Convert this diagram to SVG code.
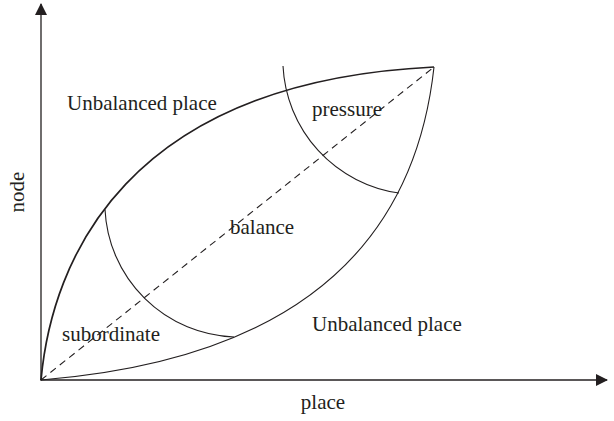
<svg xmlns="http://www.w3.org/2000/svg" width="614" height="421" viewBox="0 0 614 421">
  <defs>
    <marker id="arrow" viewBox="0 0 12 12" refX="11" refY="6" markerWidth="12" markerHeight="12" markerUnits="userSpaceOnUse" orient="auto">
      <path d="M0,0 L12,6 L0,12 Z" fill="#231f20"/>
    </marker>
  </defs>
  <style>
    .ax { stroke: #231f20; stroke-width: 1.3; fill: none; }
    .cv { stroke: #231f20; stroke-width: 1.1; fill: none; }
    .cv-bold { stroke: #231f20; stroke-width: 1.7; fill: none; }
    .dash { stroke: #231f20; stroke-width: 1.1; fill: none; stroke-dasharray: 7 5; }
    .lbl { font-family: "Liberation Serif", "Times New Roman", serif; font-size: 21px; fill: #231f20; }
  </style>
  <rect width="614" height="421" fill="#ffffff"/>
  <g id="axes">
    <line class="ax" x1="41" y1="380.5" x2="41" y2="4" marker-end="url(#arrow)"/>
    <line class="ax" x1="40.5" y1="380" x2="607" y2="380" marker-end="url(#arrow)"/>
  </g>
  <g id="connectors">
    <path id="upper-curve" class="cv-bold" d="M41,380 C52,260 125,82 434,67"/>
    <path id="lower-curve" class="cv" d="M41,380 Q403,351 434,67"/>
    <line id="diagonal" class="dash" x1="41" y1="380" x2="434" y2="67"/>
    <path id="subordinate-arc" class="cv" d="M105,209.5 A134,134 0 0 0 234,337"/>
    <path id="pressure-arc" class="cv" d="M283,66 A135,135 0 0 0 399,193"/>
  </g>
  <g id="labels">
    <text class="lbl" x="67" y="110">Unbalanced place</text>
    <text class="lbl" x="312" y="116">pressure</text>
    <text class="lbl" x="230" y="234">balance</text>
    <text class="lbl" x="62" y="341">subordinate</text>
    <text class="lbl" x="312" y="331">Unbalanced place</text>
    <text class="lbl" x="323" y="409" text-anchor="middle">place</text>
    <text class="lbl" transform="translate(24,192) rotate(-90)" text-anchor="middle">node</text>
  </g>
</svg>
